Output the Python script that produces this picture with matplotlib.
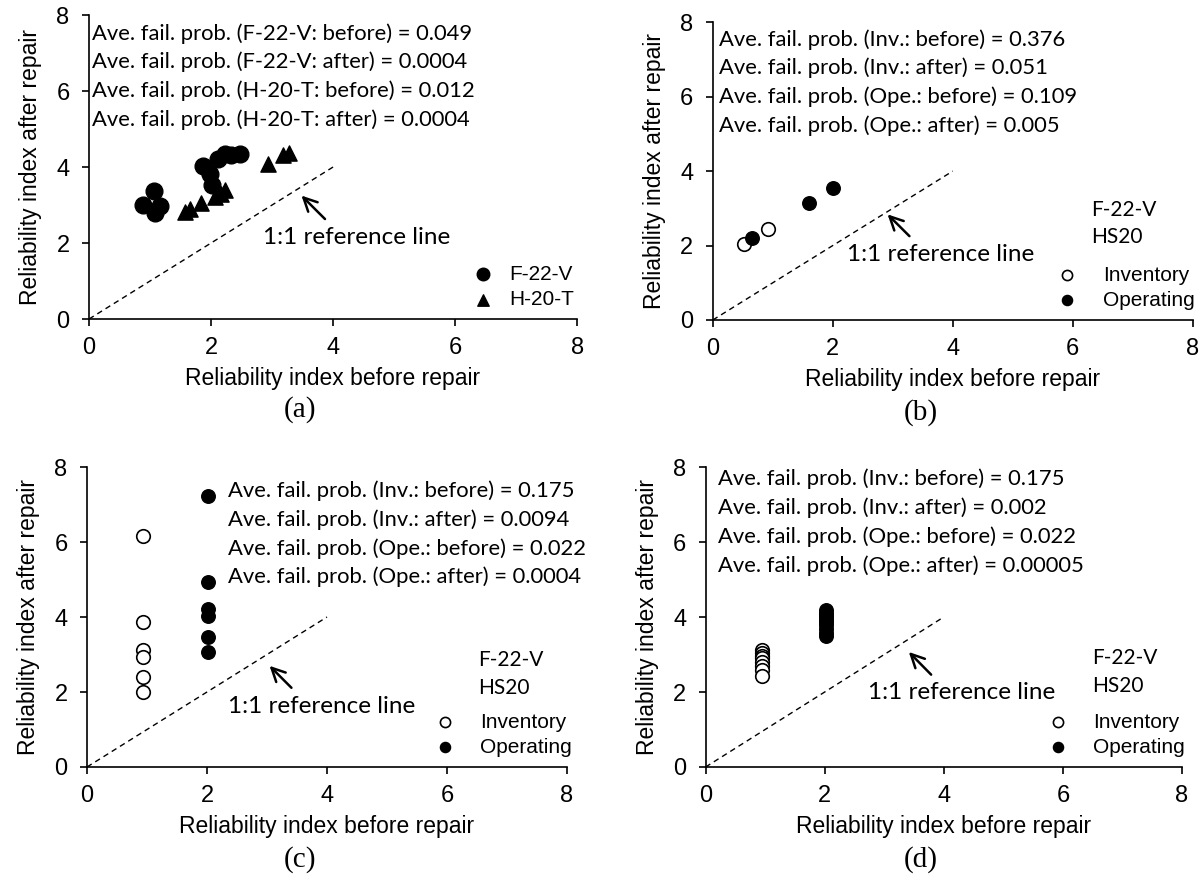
import matplotlib
matplotlib.use("Agg")
import matplotlib.pyplot as plt

# (a) F-22-V vs H-20-T
a_f22_before = [0.88, 1.07, 1.08, 1.17, 1.86, 1.99, 2.02, 2.11, 2.23, 2.32, 2.47]
a_f22_after = [2.99, 3.37, 2.80, 2.97, 4.02, 3.82, 3.54, 4.22, 4.33, 4.31, 4.33]
a_h20_before = [1.58, 1.65, 1.83, 2.07, 2.16, 2.23, 2.94, 3.18, 3.27]
a_h20_after = [2.81, 2.90, 3.05, 3.21, 3.30, 3.40, 4.09, 4.31, 4.38]

# (b)
b_inv_before = [0.52, 0.92]
b_inv_after = [2.04, 2.44]
b_ope_before = [0.66, 1.61, 2.01]
b_ope_after = [2.20, 3.14, 3.54]

# (c)
c_inv_before = [0.94, 0.94, 0.94, 0.94, 0.94, 0.94]
c_inv_after = [6.16, 3.86, 3.12, 2.94, 2.39, 2.00]
c_ope_before = [2.01, 2.01, 2.01, 2.01, 2.01, 2.01]
c_ope_after = [7.23, 4.94, 4.21, 4.04, 3.46, 3.08]

# (d)
d_inv_before = [0.95] * 8
d_inv_after = [3.12, 3.05, 2.97, 2.90, 2.80, 2.70, 2.58, 2.42]
d_ope_before = [2.03] * 10
d_ope_after = [4.18, 4.12, 4.05, 4.00, 3.93, 3.86, 3.78, 3.68, 3.58, 3.50]

notes_a = ["Ave. fail. prob. (F-22-V: before) = 0.049",
           "Ave. fail. prob. (F-22-V: after) = 0.0004",
           "Ave. fail. prob. (H-20-T: before) = 0.012",
           "Ave. fail. prob. (H-20-T: after) = 0.0004"]
notes_b = ["Ave. fail. prob. (Inv.: before) = 0.376",
           "Ave. fail. prob. (Inv.: after) = 0.051",
           "Ave. fail. prob. (Ope.: before) = 0.109",
           "Ave. fail. prob. (Ope.: after) = 0.005"]
notes_c = ["Ave. fail. prob. (Inv.: before) = 0.175",
           "Ave. fail. prob. (Inv.: after) = 0.0094",
           "Ave. fail. prob. (Ope.: before) = 0.022",
           "Ave. fail. prob. (Ope.: after) = 0.0004"]
notes_d = ["Ave. fail. prob. (Inv.: before) = 0.175",
           "Ave. fail. prob. (Inv.: after) = 0.002",
           "Ave. fail. prob. (Ope.: before) = 0.022",
           "Ave. fail. prob. (Ope.: after) = 0.00005"]

ref_line = [0, 4]
ticks = [0, 2, 4, 6, 8]

plt.rcParams['font.family'] = ['Liberation Sans', 'DejaVu Sans']
note_font = ['Lato', 'DejaVu Sans']

fig = plt.figure(figsize=(12, 8.81), dpi=100)
ax_a = fig.add_axes([0.0742, 0.6379, 0.4067, 0.345])
ax_b = fig.add_axes([0.594, 0.6368, 0.400, 0.338])
ax_c = fig.add_axes([0.0725, 0.1294, 0.400, 0.3405])
ax_d = fig.add_axes([0.588, 0.1294, 0.397, 0.3405])


def style(ax):
    ax.set_xlim(0, 8)
    ax.set_ylim(0, 8)
    ax.set_xticks(ticks)
    ax.set_yticks(ticks)
    ax.spines['top'].set_visible(False)
    ax.spines['right'].set_visible(False)
    ax.tick_params(labelsize=17, length=5, width=1.2)
    ax.tick_params(axis='x', pad=8)
    ax.tick_params(axis='y', pad=9)
    for s in ax.spines.values():
        s.set_linewidth(1.2)
    ax.set_xlabel('Reliability index before repair', fontsize=16.5, labelpad=6)
    ax.set_ylabel('Reliability index after repair', fontsize=16.5, labelpad=10)
    ax.plot(ref_line, ref_line, ls='--', color='black', lw=1, dashes=(4, 3))


def notes(ax, lines, x0, y0, step=0.76):
    for i, t in enumerate(lines):
        ax.text(x0, y0 - i * step, t, fontsize=15.8, family=note_font, va='center')


def arrow(ax, head, tail, tx, ty):
    ax.annotate('', xy=head, xytext=tail,
                arrowprops=dict(arrowstyle='->', color='black', lw=1.8, mutation_scale=24))
    ax.text(tx, ty, '1:1 reference line', fontsize=17.5, family=note_font, va='center')


def legend(ax, x, pad, size=15):
    ax.legend(loc='lower left', bbox_to_anchor=(x, -0.015), frameon=False, fontsize=size,
              handletextpad=pad, labelspacing=0.3, markerscale=0.75, borderpad=0.2)


# (a)
style(ax_a)
ax_a.scatter(a_f22_before, a_f22_after, s=145, marker='o', color='black', label='F-22-V')
ax_a.scatter(a_h20_before, a_h20_after, s=120, marker='^', color='black', label='H-20-T')
notes(ax_a, notes_a, 0.05, 7.52, 0.757)
arrow(ax_a, (3.45, 3.3), (3.9, 2.58), 2.85, 2.15)
legend(ax_a, 0.735, 0.25, 15)

# (b)
style(ax_b)
ax_b.scatter(b_inv_before, b_inv_after, s=95, marker='o', facecolor='white', edgecolor='black', lw=1.2, label='Inventory')
ax_b.scatter(b_ope_before, b_ope_after, s=95, marker='o', color='black', label='Operating')
notes(ax_b, notes_b, 0.1, 7.54, 0.773)
arrow(ax_b, (2.88, 2.89), (3.31, 2.2), 2.23, 1.75)
ax_b.text(6.31, 2.95, 'F-22-V', fontsize=15, family=note_font, va='center')
ax_b.text(6.31, 2.22, 'HS20', fontsize=15, family=note_font, va='center')
legend(ax_b, 0.665, 0.7)

# (c)
style(ax_c)
ax_c.scatter(c_inv_before, c_inv_after, s=95, marker='o', facecolor='white', edgecolor='black', lw=1.2, label='Inventory')
ax_c.scatter(c_ope_before, c_ope_after, s=95, marker='o', color='black', label='Operating')
notes(ax_c, notes_c, 2.35, 7.36, 0.763)
arrow(ax_c, (3.01, 2.75), (3.44, 2.06), 2.35, 1.61)
ax_c.text(6.52, 2.86, 'F-22-V', fontsize=15, family=note_font, va='center')
ax_c.text(6.52, 2.10, 'HS20', fontsize=15, family=note_font, va='center')
legend(ax_c, 0.672, 0.7)

# (d)
style(ax_d)
ax_d.scatter(d_inv_before, d_inv_after, s=95, marker='o', facecolor='white', edgecolor='black', lw=1.2, label='Inventory')
ax_d.scatter(d_ope_before, d_ope_after, s=95, marker='o', color='black', label='Operating')
notes(ax_d, notes_d, 0.21, 7.69, 0.77)
arrow(ax_d, (3.38, 3.12), (3.82, 2.41), 2.72, 2.0)
ax_d.text(6.49, 2.9, 'F-22-V', fontsize=15, family=note_font, va='center')
ax_d.text(6.49, 2.15, 'HS20', fontsize=15, family=note_font, va='center')
legend(ax_d, 0.665, 0.7)

for lab, x, y in [('(a)', 0.25, 0.535), ('(b)', 0.767, 0.532), ('(c)', 0.25, 0.024), ('(d)', 0.767, 0.024)]:
    fig.text(x, y, lab, fontsize=21, family=['Liberation Serif'], ha='center', va='center')

fig.savefig('out.png', dpi=100)
